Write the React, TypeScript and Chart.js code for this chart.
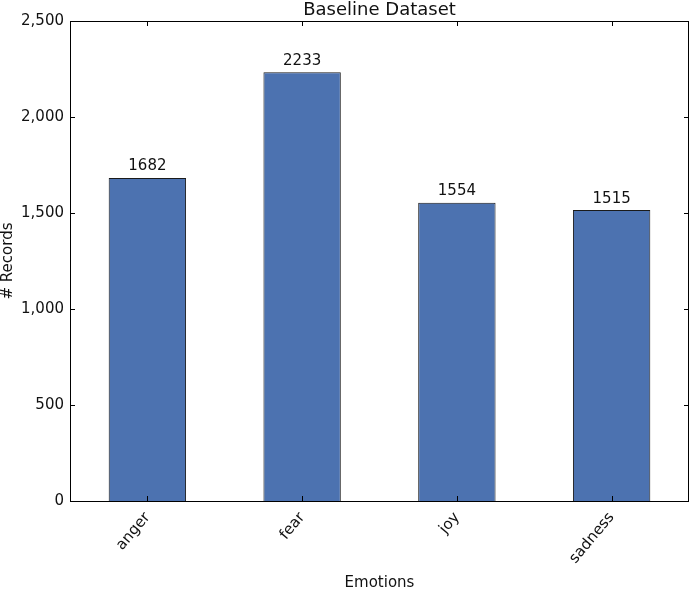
import React, { useEffect, useRef } from "react";
import { Chart, registerables } from "chart.js";
Chart.register(...registerables);

const categories = ["anger", "fear", "joy", "sadness"];
const values = [1682, 2233, 1554, 1515];
const yTicks = [0, 500, 1000, 1500, 2000, 2500];
const FONT = "DejaVu Sans";

export default function App() {
  const ref = useRef<HTMLCanvasElement>(null);
  useEffect(() => {
    const overlay = {
      id: "overlay",
      afterDraw(chart: any) {
        const { ctx, chartArea: a, scales } = chart;
        const x = scales.x, y = scales.y;
        ctx.save();
        ctx.strokeStyle = "#000";
        ctx.lineWidth = 1;
        ctx.strokeRect(a.left + 0.5, a.top + 0.5, a.right - a.left - 1, a.bottom - a.top);
        ctx.beginPath();
        yTicks.forEach((t) => {
          const py = Math.round(y.getPixelForValue(t)) + 0.5;
          ctx.moveTo(a.left, py); ctx.lineTo(a.left + 5, py);
          ctx.moveTo(a.right, py); ctx.lineTo(a.right - 5, py);
        });
        categories.forEach((_, i) => {
          const px = Math.round(x.getPixelForValue(i)) + 0.5;
          ctx.moveTo(px, a.bottom); ctx.lineTo(px, a.bottom - 5);
          ctx.moveTo(px, a.top); ctx.lineTo(px, a.top + 5);
        });
        ctx.stroke();
        ctx.fillStyle = "#111";
        ctx.font = `15px '${FONT}'`;
        ctx.textAlign = "center";
        ctx.textBaseline = "bottom";
        values.forEach((v, i) => {
          ctx.fillText(String(v), x.getPixelForValue(i), y.getPixelForValue(v) - 4);
        });
        ctx.font = `18px '${FONT}'`;
        ctx.textBaseline = "bottom";
        ctx.fillText("Baseline Dataset", (a.left + a.right) / 2, a.top - 2);
        ctx.font = `15px '${FONT}'`;
        ctx.textBaseline = "alphabetic";
        ctx.fillText("Emotions", (a.left + a.right) / 2, 587);
        ctx.translate(12, (a.top + a.bottom) / 2);
        ctx.rotate(-Math.PI / 2);
        ctx.fillText("# Records", 0, 0);
        ctx.restore();
      },
    };
    const chart = new Chart(ref.current!, {
      type: "bar",
      data: {
        labels: categories,
        datasets: [{
          data: values,
          backgroundColor: "#4c72b0",
          borderColor: "#1a1a1a",
          borderWidth: 1,
          barPercentage: 1,
          categoryPercentage: 0.5,
        }],
      },
      options: {
        animation: false,
        responsive: false,
        layout: { padding: { top: 21, right: 1, left: 0, bottom: 0 } },
        plugins: { legend: { display: false }, tooltip: { enabled: false } },
        scales: {
          x: {
            grid: { display: false, drawTicks: false },
            border: { display: false },
            ticks: { color: "#111", font: { family: FONT, size: 15 }, minRotation: 50, maxRotation: 50, padding: 8 },
            afterFit: (s: any) => { s.height = 89; },
          },
          y: {
            min: 0, max: 2500,
            grid: { display: false, drawTicks: false },
            border: { display: false },
            ticks: { stepSize: 500, color: "#111", font: { family: FONT, size: 15 }, padding: 6 },
            afterFit: (s: any) => { s.width = 70; },
          },
        },
      },
      plugins: [overlay],
    });
    return () => chart.destroy();
  }, []);
  return (
    <div style={{ position: "fixed", left: 0, top: 0, width: 690, height: 590, background: "#fff" }}>
      <canvas ref={ref} width={690} height={590} />
    </div>
  );
}
